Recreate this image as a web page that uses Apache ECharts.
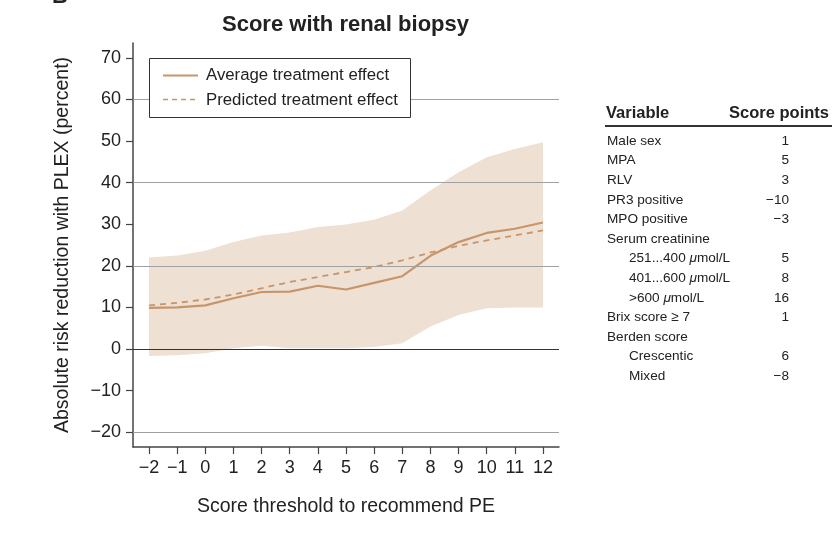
<!DOCTYPE html>
<html>
<head>
<meta charset="utf-8">
<script src="https://cdn.jsdelivr.net/npm/echarts@6/dist/echarts.min.js"></script>
<style>
html,body{margin:0;padding:0;background:#fff;}
#chart{width:838px;height:536px;}
</style>
</head>
<body>
<div id="chart"></div>
<script>
var thresholds = [-2,-1,0,1,2,3,4,5,6,7,8,9,10,11,12];
var averageEffect = [9.9,10.0,10.5,12.2,13.7,13.8,15.2,14.3,15.9,17.5,22.4,25.7,27.9,28.9,30.4];
var predictedEffect = [10.5,11.1,11.9,13.1,14.6,16.1,17.3,18.5,19.7,21.3,23.2,24.8,26.1,27.3,28.5];
var bandUpper = [22.0,22.5,23.6,25.7,27.3,28.0,29.3,29.9,31.1,33.3,38.1,42.5,46.1,48.1,49.7];
var bandLower = [-1.7,-1.5,-1.0,0.2,0.8,0.2,0.2,0.2,0.5,1.4,5.4,8.2,9.8,10.0,10.0];
var yTicks = [-20,-10,0,10,20,30,40,50,60,70];
var xTicks = [-2,-1,0,1,2,3,4,5,6,7,8,9,10,11,12];
var grayGridValues = [60,40,20,-20];
var zeroLineValue = 0;
var legendNames = ['Average treatment effect','Predicted treatment effect'];
var tableVariables = ['Male sex','MPA','RLV','PR3 positive','MPO positive','Serum creatinine','251...400 |μ|mol/L','401...600 |μ|mol/L','>600 |μ|mol/L','Brix score \u2265 7','Berden score','Crescentic','Mixed'];
var tableIndent = [0,0,0,0,0,0,1,1,1,0,0,1,1];
var tableScores = ['1','5','3','\u221210','\u22123','','5','8','16','1','','6','\u22128'];

var FONT = '"Liberation Sans", Arial, Helvetica, sans-serif';
var LINE_COLOR = '#c8956a';
var BAND_COLOR = '#eee0d3';

function pairs(vals){ return thresholds.map(function(x,i){ return [x, vals[i]]; }); }
var bandData = thresholds.map(function(x,i){ return [x, bandLower[i], bandUpper[i]]; });
function fmtNum(v){ return String(v).replace('-', '\u2212'); }

var graphics = [];
graphics.push({type:'text', left:52, top:-14, style:{text:'B', font:'bold 22px ' + FONT, fill:'#222'}});
// legend box
graphics.push({type:'rect', z:10, shape:{x:149.5, y:58.5, width:261, height:59}, style:{fill:'#fff', stroke:'#333', lineWidth:1}});
graphics.push({type:'line', z:11, shape:{x1:163, y1:75.5, x2:198, y2:75.5}, style:{stroke:LINE_COLOR, lineWidth:2.2}});
graphics.push({type:'line', z:11, shape:{x1:163, y1:99.5, x2:198, y2:99.5}, style:{stroke:LINE_COLOR, lineWidth:1.5, lineDash:[5,4]}});
graphics.push({type:'text', z:11, x:206, y:75.5, style:{text:legendNames[0], font:'16.8px ' + FONT, fill:'#222', verticalAlign:'middle'}});
graphics.push({type:'text', z:11, x:206, y:100, style:{text:legendNames[1], font:'16.8px ' + FONT, fill:'#222', verticalAlign:'middle'}});
// table
graphics.push({type:'text', left:606, top:105, style:{text:'Variable', font:'bold 16.5px ' + FONT, fill:'#222'}});
graphics.push({type:'text', right:838-829, top:105, style:{text:'Score points', font:'bold 16.5px ' + FONT, fill:'#222', align:'right'}});
graphics.push({type:'rect', shape:{x:605, y:125, width:227, height:2}, style:{fill:'#333'}});
tableVariables.forEach(function(name, i){
  var y = 141 + i*19.6;
  var parts = name.split('|');
  var txt = parts.length > 1 ? (parts[0] + '{it|' + parts[1] + '}' + parts[2]) : name;
  graphics.push({type:'text', x: tableIndent[i] ? 629 : 607, y: y,
    style:{text: txt, font:'13.6px ' + FONT, fill:'#222', verticalAlign:'middle',
      rich:{it:{fontStyle:'italic', fontSize:13.6, fontFamily:FONT, fill:'#222'}}}});
  if (tableScores[i] !== '') {
    graphics.push({type:'text', x:789, y:y, style:{text: tableScores[i], font:'13.6px ' + FONT, fill:'#222', align:'right', verticalAlign:'middle'}});
  }
});

var chart = echarts.init(document.getElementById('chart'), null, {renderer:'canvas'});
chart.setOption({
  animation:false,
  backgroundColor:'#fff',
  textStyle:{fontFamily:FONT},
  title:{text:'Score with renal biopsy', left:340.5, textAlign:'center', top:9,
    textStyle:{fontFamily:FONT, fontSize:22, fontWeight:'bold', color:'#222'}},
  grid:{left:133, top:43, right:838-559, bottom:536-447, containLabel:false},
  xAxis:{
    type:'value', min:-2.57, max:12.57,
    name:'Score threshold to recommend PE', nameLocation:'middle', nameGap:50,
    nameTextStyle:{fontFamily:FONT, fontSize:19.5, color:'#222'},
    axisLine:{show:true, onZero:false, lineStyle:{color:'#444', width:1.5}},
    axisTick:{show:true, length:7, customValues:xTicks, lineStyle:{color:'#444', width:1.2}},
    axisLabel:{customValues:xTicks, margin:12, fontFamily:FONT, fontSize:18, color:'#222', formatter:fmtNum},
    splitLine:{show:false}
  },
  yAxis:{
    type:'value', min:-23.56, max:73.56,
    name:'Absolute risk reduction with PLEX (percent)', nameLocation:'middle', nameGap:60, nameRotate:90,
    nameTextStyle:{fontFamily:FONT, fontSize:19.5, color:'#222'},
    axisLine:{show:true, onZero:false, lineStyle:{color:'#444', width:1.5}},
    axisTick:{show:true, length:7, customValues:yTicks, lineStyle:{color:'#444', width:1.2}},
    axisLabel:{customValues:yTicks, margin:12, fontFamily:FONT, fontSize:18, color:'#222', formatter:fmtNum},
    splitLine:{show:false}
  },
  series:[
    {name:'band', type:'custom', data:bandData, silent:true, z:1, clip:true,
      renderItem:function(params, api){
        if (params.dataIndex !== 0) return null;
        var pts = [];
        for (var i=0;i<bandData.length;i++) pts.push(api.coord([bandData[i][0], bandData[i][2]]));
        for (var j=bandData.length-1;j>=0;j--) pts.push(api.coord([bandData[j][0], bandData[j][1]]));
        return {type:'polygon', shape:{points:pts}, style:{fill:BAND_COLOR}};
      }},
    {name:'gridlines', type:'line', data:[], silent:true, z:2,
      markLine:{silent:true, symbol:'none', label:{show:false}, animation:false,
        data: grayGridValues.map(function(v){ return {yAxis:v, lineStyle:{color:'#a0a0a0', width:1.2, type:'solid'}}; })
          .concat([{yAxis:zeroLineValue, lineStyle:{color:'#333', width:1.2, type:'solid'}}])}},
    {name:legendNames[0], type:'line', data:pairs(averageEffect), symbol:'none', showSymbol:false,
      lineStyle:{color:LINE_COLOR, width:2.2}, itemStyle:{color:LINE_COLOR}, z:4},
    {name:legendNames[1], type:'line', data:pairs(predictedEffect), symbol:'none', showSymbol:false,
      lineStyle:{color:LINE_COLOR, width:1.8, type:[6,5]}, itemStyle:{color:LINE_COLOR}, z:4}
  ],
  graphic: graphics
});
</script>
</body>
</html>
